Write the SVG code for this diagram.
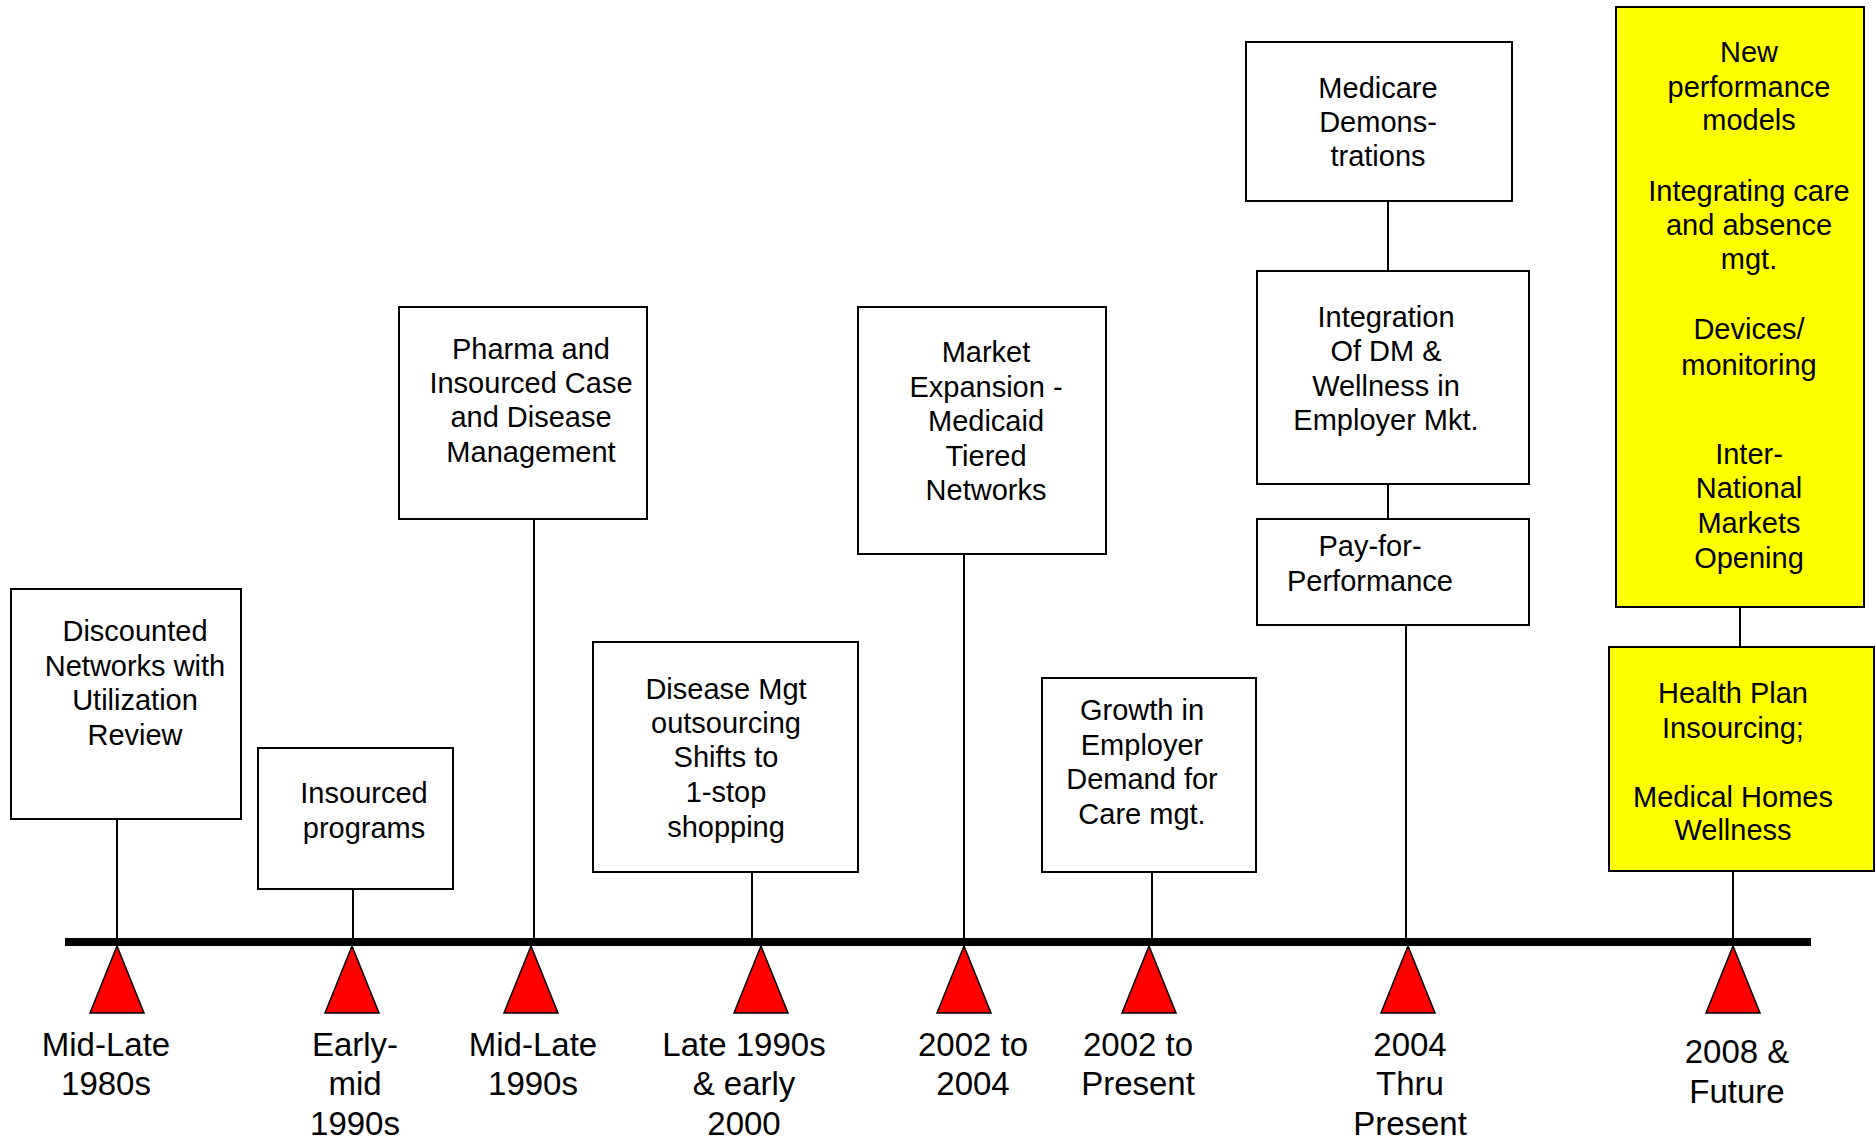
<svg xmlns="http://www.w3.org/2000/svg" width="1876" height="1141" viewBox="0 0 1876 1141">
<style>
.box{fill:#fff;stroke:#000;stroke-width:2}
.yel{fill:#ffff00;stroke:#000;stroke-width:2}
.t{font-family:"Liberation Sans",Arial,sans-serif;font-size:29px;text-anchor:middle;fill:#000}
.d{font-family:"Liberation Sans",Arial,sans-serif;font-size:33px;text-anchor:middle;fill:#000}
.c{stroke:#000;stroke-width:2;fill:none}
.tri{fill:#ff0000;stroke:#000;stroke-width:1.5;stroke-linejoin:miter}
</style>
<rect width="1876" height="1141" fill="#fff"/>
<g id="connectors">
<line class="c" x1="117" y1="820" x2="117" y2="940"/>
<line class="c" x1="353" y1="889" x2="353" y2="940"/>
<line class="c" x1="534" y1="519" x2="534" y2="940"/>
<line class="c" x1="752" y1="872" x2="752" y2="940"/>
<line class="c" x1="964" y1="554" x2="964" y2="940"/>
<line class="c" x1="1152" y1="872" x2="1152" y2="940"/>
<line class="c" x1="1388" y1="201" x2="1388" y2="271"/>
<line class="c" x1="1388" y1="484" x2="1388" y2="519"/>
<line class="c" x1="1406" y1="625" x2="1406" y2="940"/>
<line class="c" x1="1740" y1="607" x2="1740" y2="647"/>
<line class="c" x1="1733" y1="871" x2="1733" y2="940"/>
</g>
<g id="timeline">
<line x1="65" y1="942" x2="1811" y2="942" stroke="#000" stroke-width="8"/>
</g>
<g id="markers">
<polygon class="tri" points="117,946 90,1013 144,1013"/>
<polygon class="tri" points="352,946 325,1013 379,1013"/>
<polygon class="tri" points="531,946 504,1013 558,1013"/>
<polygon class="tri" points="761,946 734,1013 788,1013"/>
<polygon class="tri" points="964,946 937,1013 991,1013"/>
<polygon class="tri" points="1149,946 1122,1013 1176,1013"/>
<polygon class="tri" points="1408,946 1381,1013 1435,1013"/>
<polygon class="tri" points="1733,946 1706,1013 1760,1013"/>
</g>
<g id="n1">
<rect class="box" x="11" y="589" width="230" height="230"/>
<text class="t" x="135" y="641">Discounted</text>
<text class="t" x="135" y="676">Networks with</text>
<text class="t" x="135" y="710">Utilization</text>
<text class="t" x="135" y="745">Review</text>
</g>
<g id="n2">
<rect class="box" x="258" y="748" width="195" height="141"/>
<text class="t" x="364" y="803">Insourced</text>
<text class="t" x="364" y="838">programs</text>
</g>
<g id="n3">
<rect class="box" x="399" y="307" width="248" height="212"/>
<text class="t" x="531" y="359">Pharma and</text>
<text class="t" x="531" y="393">Insourced Case</text>
<text class="t" x="531" y="427">and Disease</text>
<text class="t" x="531" y="462">Management</text>
</g>
<g id="n4">
<rect class="box" x="593" y="642" width="265" height="230"/>
<text class="t" x="726" y="699">Disease Mgt</text>
<text class="t" x="726" y="733">outsourcing</text>
<text class="t" x="726" y="767">Shifts to</text>
<text class="t" x="726" y="802">1-stop</text>
<text class="t" x="726" y="837">shopping</text>
</g>
<g id="n5">
<rect class="box" x="858" y="307" width="248" height="247"/>
<text class="t" x="986" y="362">Market</text>
<text class="t" x="986" y="397">Expansion -</text>
<text class="t" x="986" y="431">Medicaid</text>
<text class="t" x="986" y="466">Tiered</text>
<text class="t" x="986" y="500">Networks</text>
</g>
<g id="n6">
<rect class="box" x="1042" y="678" width="214" height="194"/>
<text class="t" x="1142" y="720">Growth in</text>
<text class="t" x="1142" y="755">Employer</text>
<text class="t" x="1142" y="789">Demand for</text>
<text class="t" x="1142" y="824">Care mgt.</text>
</g>
<g id="n7">
<rect class="box" x="1246" y="42" width="266" height="159"/>
<text class="t" x="1378" y="98">Medicare</text>
<text class="t" x="1378" y="132">Demons-</text>
<text class="t" x="1378" y="166">trations</text>
</g>
<g id="n8">
<rect class="box" x="1257" y="271" width="272" height="213"/>
<text class="t" x="1386" y="327">Integration</text>
<text class="t" x="1386" y="361">Of DM &amp;</text>
<text class="t" x="1386" y="396">Wellness in</text>
<text class="t" x="1386" y="430">Employer Mkt.</text>
</g>
<g id="n9">
<rect class="box" x="1257" y="519" width="272" height="106"/>
<text class="t" x="1370" y="556">Pay-for-</text>
<text class="t" x="1370" y="591">Performance</text>
</g>
<g id="n10">
<rect class="yel" x="1616" y="7" width="248" height="600"/>
<text class="t" x="1749" y="62">New</text>
<text class="t" x="1749" y="97">performance</text>
<text class="t" x="1749" y="130">models</text>
<text class="t" x="1749" y="201">Integrating care</text>
<text class="t" x="1749" y="235">and absence</text>
<text class="t" x="1749" y="269">mgt.</text>
<text class="t" x="1749" y="339">Devices/</text>
<text class="t" x="1749" y="375">monitoring</text>
<text class="t" x="1749" y="464">Inter-</text>
<text class="t" x="1749" y="498">National</text>
<text class="t" x="1749" y="533">Markets</text>
<text class="t" x="1749" y="568">Opening</text>
</g>
<g id="n11">
<rect class="yel" x="1609" y="647" width="265" height="224"/>
<text class="t" x="1733" y="703">Health Plan</text>
<text class="t" x="1733" y="738">Insourcing;</text>
<text class="t" x="1733" y="807">Medical Homes</text>
<text class="t" x="1733" y="840">Wellness</text>
</g>
<g id="dates">
<text class="d" x="106" y="1056">Mid-Late</text>
<text class="d" x="106" y="1095">1980s</text>
<text class="d" x="355" y="1056">Early-</text>
<text class="d" x="355" y="1095">mid</text>
<text class="d" x="355" y="1135">1990s</text>
<text class="d" x="533" y="1056">Mid-Late</text>
<text class="d" x="533" y="1095">1990s</text>
<text class="d" x="744" y="1056">Late 1990s</text>
<text class="d" x="744" y="1095">&amp; early</text>
<text class="d" x="744" y="1135">2000</text>
<text class="d" x="973" y="1056">2002 to</text>
<text class="d" x="973" y="1095">2004</text>
<text class="d" x="1138" y="1056">2002 to</text>
<text class="d" x="1138" y="1095">Present</text>
<text class="d" x="1410" y="1056">2004</text>
<text class="d" x="1410" y="1095">Thru</text>
<text class="d" x="1410" y="1135">Present</text>
<text class="d" x="1737" y="1063">2008 &amp;</text>
<text class="d" x="1737" y="1103">Future</text>
</g>
</svg>
